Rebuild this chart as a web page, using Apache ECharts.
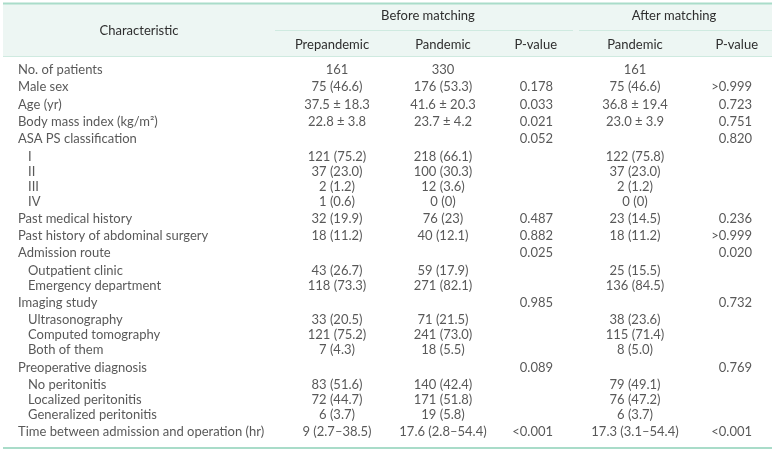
<!DOCTYPE html>
<html>
<head>
<meta charset="utf-8">
<script src="https://cdn.jsdelivr.net/npm/echarts@6/dist/echarts.min.js"></script>
<style>html,body{margin:0;padding:0;background:#fff}#c{width:776px;height:451px}</style>
</head>
<body>
<div id="c"></div>
<script>
// ---------- DATA ----------
const characteristics = ['No. of patients','Male sex','Age (yr)','Body mass index (kg/m²)','ASA PS classification','I','II','III','IV','Past medical history','Past history of abdominal surgery','Admission route','Outpatient clinic','Emergency department','Imaging study','Ultrasonography','Computed tomography','Both of them','Preoperative diagnosis','No peritonitis','Localized peritonitis','Generalized peritonitis','Time between admission and operation (hr)'];
const indentLevel = [0,0,0,0,0,1,1,1,1,0,0,0,1,1,0,1,1,1,0,1,1,1,0];
const prepandemic = ['161','75 (46.6)','37.5 ± 18.3','22.8 ± 3.8','','121 (75.2)','37 (23.0)','2 (1.2)','1 (0.6)','32 (19.9)','18 (11.2)','','43 (26.7)','118 (73.3)','','33 (20.5)','121 (75.2)','7 (4.3)','','83 (51.6)','72 (44.7)','6 (3.7)','9 (2.7–38.5)'];
const pandemicBefore = ['330','176 (53.3)','41.6 ± 20.3','23.7 ± 4.2','','218 (66.1)','100 (30.3)','12 (3.6)','0 (0)','76 (23)','40 (12.1)','','59 (17.9)','271 (82.1)','','71 (21.5)','241 (73.0)','18 (5.5)','','140 (42.4)','171 (51.8)','19 (5.8)','17.6 (2.8–54.4)'];
const pValueBefore = ['','0.178','0.033','0.021','0.052','','','','','0.487','0.882','0.025','','','0.985','','','','0.089','','','','<0.001'];
const pandemicAfter = ['161','75 (46.6)','36.8 ± 19.4','23.0 ± 3.9','','122 (75.8)','37 (23.0)','2 (1.2)','0 (0)','23 (14.5)','18 (11.2)','','25 (15.5)','136 (84.5)','','38 (23.6)','115 (71.4)','8 (5.0)','','79 (49.1)','76 (47.2)','6 (3.7)','17.3 (3.1–54.4)'];
const pValueAfter = ['','>0.999','0.723','0.751','0.820','','','','','0.236','>0.999','0.020','','','0.732','','','','0.769','','','','<0.001'];
const groupHeaders = ['Before matching','After matching'];
const columnHeaders = ['Characteristic','Prepandemic','Pandemic','P-value','Pandemic','P-value'];

// ---------- LAYOUT ----------
const W = 776, H = 451;
const FONT = 'Lato';
const FS = 13;
const TXT = '#2e2e2e';
const LINE = '#a9dcc9';
const LINE_LIGHT = '#cfeae0';
const HEAD_BG = '#edf6f3';
const colAnchor = {
  char: 18, charIndent: 28,
  pre: 337, panB: 443, pB: 553, panA: 635, pA: 752
};
// row positions derived from hierarchy: sub-rows following sub-rows sit closer
const SUB_GAP = 15 / 17.3;
const rowPos = [];
characteristics.forEach((_, i) => {
  if (i === 0) rowPos.push(0);
  else rowPos.push(rowPos[i - 1] + ((indentLevel[i] && indentLevel[i - 1]) ? SUB_GAP : 1));
});
const rowMax = rowPos[rowPos.length - 1];
const FIRST_ROW_Y = 70, LAST_ROW_Y = 432;

function textSeries(name, values, x, align) {
  return {
    name, type: 'scatter', symbolSize: 0, silent: true,
    data: values.map((v, i) => [typeof x === 'function' ? x(i) : x, rowPos[i], v]).filter(d => d[2] !== ''),
    label: {
      show: true, position: 'inside', align, verticalAlign: 'middle',
      color: TXT, fontFamily: FONT, fontSize: FS,
      formatter: p => p.data[2]
    }
  };
}

const chart = echarts.init(document.getElementById('c'), null, {renderer: 'canvas'});

function hText(text, x, y, align) {
  return {type: 'text', x, y, silent: true, style: {text, x: 0, y: 0, align, verticalAlign: 'middle', fill: TXT, font: FS + 'px ' + FONT}};
}

chart.setOption({
  animation: false,
  backgroundColor: '#fff',
  grid: {left: 0, right: 0, top: FIRST_ROW_Y, height: LAST_ROW_Y - FIRST_ROW_Y, containLabel: false},
  xAxis: {type: 'value', min: 0, max: W, show: false},
  yAxis: {type: 'value', min: 0, max: rowMax, inverse: true, show: false},
  graphic: [
    {type: 'rect', shape: {x: 3, y: 4, width: 769, height: 52}, style: {fill: HEAD_BG}, silent: true, z: -10},
    {type: 'rect', shape: {x: 3, y: 2.5, width: 769, height: 2}, style: {fill: LINE}, silent: true},
    {type: 'rect', shape: {x: 3, y: 56, width: 769, height: 1}, style: {fill: LINE_LIGHT}, silent: true},
    {type: 'rect', shape: {x: 275, y: 30, width: 298, height: 1}, style: {fill: LINE_LIGHT}, silent: true},
    {type: 'rect', shape: {x: 579, y: 30, width: 193, height: 1}, style: {fill: LINE_LIGHT}, silent: true},
    {type: 'rect', shape: {x: 3, y: 447, width: 769, height: 2}, style: {fill: LINE}, silent: true},
    hText(groupHeaders[0], 428, 16, 'center'),
    hText(groupHeaders[1], 674, 16, 'center'),
    hText(columnHeaders[0], 139, 31, 'center'),
    hText(columnHeaders[1], 332, 45, 'center'),
    hText(columnHeaders[2], 443, 45, 'center'),
    hText(columnHeaders[3], 557, 45, 'right'),
    hText(columnHeaders[4], 635, 45, 'center'),
    hText(columnHeaders[5], 758, 45, 'right')
  ],
  series: [
    textSeries('Characteristic', characteristics, i => indentLevel[i] ? colAnchor.charIndent : colAnchor.char, 'left'),
    textSeries('Prepandemic', prepandemic, colAnchor.pre, 'center'),
    textSeries('Pandemic (before)', pandemicBefore, colAnchor.panB, 'center'),
    textSeries('P-value (before)', pValueBefore, colAnchor.pB, 'right'),
    textSeries('Pandemic (after)', pandemicAfter, colAnchor.panA, 'center'),
    textSeries('P-value (after)', pValueAfter, colAnchor.pA, 'right')
  ]
});
</script>
</body>
</html>
